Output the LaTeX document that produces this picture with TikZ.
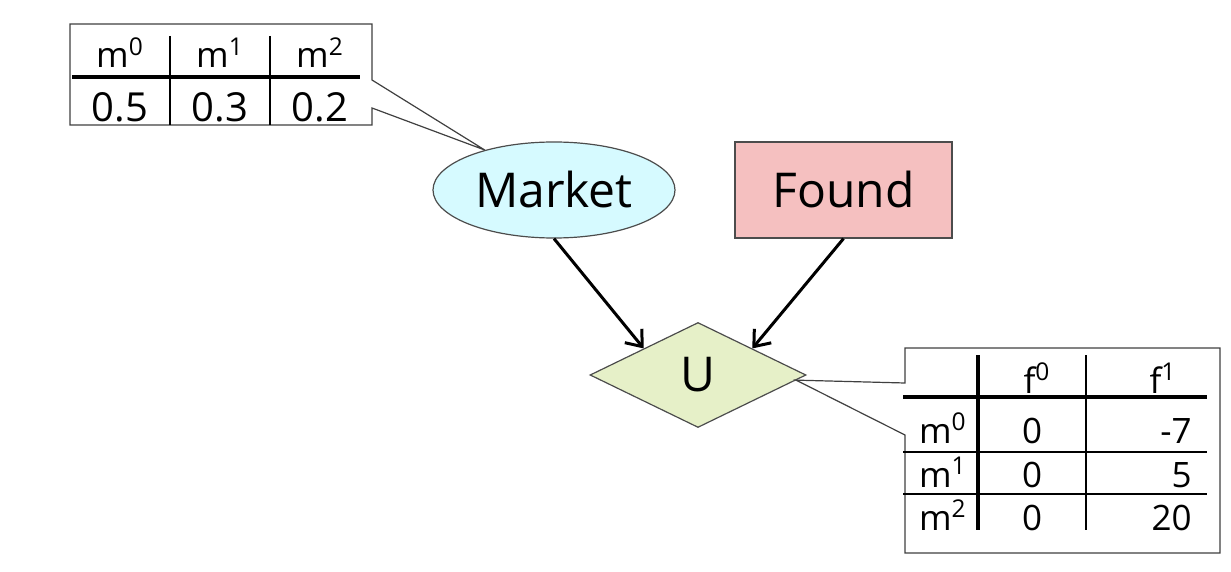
\documentclass[tikz,border=0pt]{standalone}
\usepackage{fontspec}
\setmainfont{Open Sans}
\usetikzlibrary{arrows.meta, shapes.geometric}

\definecolor{marketfill}{RGB}{214,250,255}
\definecolor{foundfill}{RGB}{245,192,192}
\definecolor{ufill}{RGB}{230,240,200}

\begin{document}
\begin{tikzpicture}[x=0.5pt, y=-0.5pt, >={Straight Barb[length=7pt, width=11pt]},
  every node/.style={inner sep=0pt},
  bigtext/.style={font=\fontsize{24}{28}\selectfont},
  celltext/.style={font=\fontsize{17.5}{21}\selectfont},
  valtext/.style={font=\fontsize{20}{24}\selectfont},
  callout/.style={draw=black!75, line width=0.6pt, fill=white},
  heavyrule/.style={line width=2pt},
  gridline/.style={line width=0.8pt},
  link/.style={->, line width=1.5pt}]
  \useasboundingbox (0,0) rectangle (1231,572);

  % nodes of the network
  \node[ellipse, draw=black!70, line width=0.6pt, fill=marketfill,
    minimum width=121pt, minimum height=48pt, bigtext] (market) at (554,190) {Market};
  \node[rectangle, draw=black!70, line width=0.6pt, fill=foundfill,
    minimum width=108.5pt, minimum height=48pt, bigtext] (found) at (843.5,190) {Found};
  \node[diamond, draw=black!70, line width=0.6pt, fill=ufill,
    minimum width=108pt, minimum height=52.5pt, bigtext] (u) at (698,375) {U};

  \draw[link] (market.south) -- (u.north west);
  \draw[link] (found.south) -- (u.north east);

  % prior of Market
  \draw[callout] (70,24) -- (372,24) -- (372,80) -- (market.150) -- (372,108)
    -- (372,125) -- (70,125) -- cycle;
  \draw[heavyrule] (72,77) -- (360,77);
  \foreach \x in {170,270} \draw[gridline] (\x,36) -- (\x,125);
  \foreach \x/\i in {120/0,220/1,320/2}
    \node[celltext, anchor=base] (mh\i) at (\x,68) {m\textsuperscript{\i}};
  \node[valtext, anchor=base] (mv0) at (120,122) {0.5};
  \node[valtext, anchor=base] (mv1) at (220,122) {0.3};
  \node[valtext, anchor=base] (mv2) at (320,122) {0.2};

  % utility table
  \draw[callout] (905,348) -- (1220,348) -- (1220,553) -- (905,553) -- (905,435)
    -- (u.-3) -- (905,383) -- cycle;
  \draw[heavyrule] (978,355) -- (978,530);
  \draw[gridline] (1086,355) -- (1086,530);
  \draw[heavyrule] (903,397) -- (1207,397);
  \draw[gridline] (903,452) -- (1207,452);
  \draw[gridline] (903,494) -- (1207,494);
  \node[celltext, anchor=base] (fh0) at (1037,393) {f\textsuperscript{0}};
  \node[celltext, anchor=base] (fh1) at (1163,393) {f\textsuperscript{1}};
  \foreach \y/\i/\v in {443/0/-7, 487/1/5, 530/2/20} {
    \node[celltext, anchor=base east] (rl\i) at (967,\y) {m\textsuperscript{\i}};
    \node[celltext, anchor=base] (ua\i) at (1032,\y) {0};
    \node[celltext, anchor=base east] (ub\i) at (1192,\y) {\v};
  }
\end{tikzpicture}
\end{document}
